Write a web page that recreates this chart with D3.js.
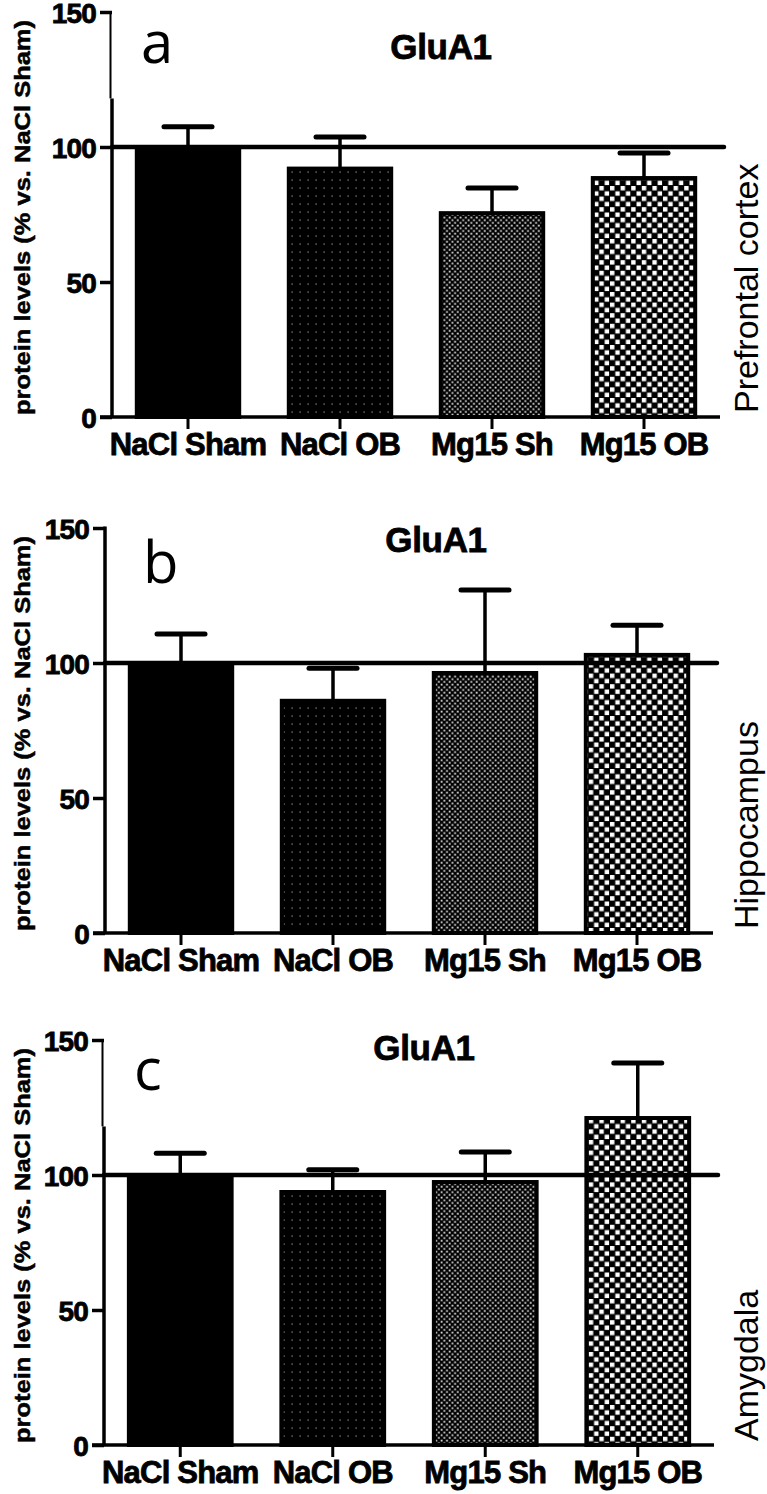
<!DOCTYPE html>
<html>
<head>
<meta charset="utf-8">
<script src="https://cdn.jsdelivr.net/npm/d3@7"></script>
<style>
  body { margin: 0; background: #fff; }
  svg { display: block; font-family: "Liberation Sans", Arial, sans-serif; }
</style>
</head>
<body>
<script>
// data
const categories = ["NaCl Sham", "NaCl OB", "Mg15 Sh", "Mg15 OB"];
const yTicks = [0, 50, 100, 150];
const meansA = [100, 92, 75.5, 88.5];
const semA = [7.5, 11.7, 9.3, 9.3];
const meansB = [100, 86, 96.3, 103];
const semB = [10.7, 12.1, 30.7, 11];
const meansC = [100, 93.7, 97.4, 121.1];
const semC = [8.1, 8.2, 11.1, 20.4];
const regions = ["Prefrontal cortex", "Hippocampus", "Amygdala"];
const letters = ["a", "b", "c"];
const refValue = 100;

const fills = ["#000", "url(#dots)", "url(#fine)", "url(#checker)"];

const svg = d3.select("body").append("svg")
    .attr("width", 767)
    .attr("height", 1494);

svg.append("rect").attr("width", 767).attr("height", 1494).attr("fill", "#fff");

// bar fill patterns
const defs = svg.append("defs");
const dots = defs.append("pattern").attr("id", "dots")
    .attr("patternUnits", "userSpaceOnUse").attr("width", 8).attr("height", 8);
dots.append("rect").attr("width", 8).attr("height", 8).attr("fill", "#000");
dots.append("rect").attr("x", 3.5).attr("y", 3.5).attr("width", 1.2).attr("height", 1.2).attr("fill", "#9a9a9a");

const fine = defs.append("pattern").attr("id", "fine")
    .attr("patternUnits", "userSpaceOnUse").attr("width", 5.4).attr("height", 5.4);
fine.append("rect").attr("width", 5.4).attr("height", 5.4).attr("fill", "#000");
fine.append("rect").attr("x", 0.6).attr("y", 0.6).attr("width", 1.8).attr("height", 1.8).attr("fill", "#ddd");
fine.append("rect").attr("x", 3.3).attr("y", 3.3).attr("width", 1.8).attr("height", 1.8).attr("fill", "#ddd");

const checker = defs.append("pattern").attr("id", "checker")
    .attr("patternUnits", "userSpaceOnUse").attr("width", 10.6).attr("height", 10.6);
checker.append("rect").attr("width", 10.6).attr("height", 10.6).attr("fill", "#000");
checker.append("rect").attr("x", 0.5).attr("y", 0.5).attr("width", 4.4).attr("height", 4.4).attr("fill", "#fff");
checker.append("rect").attr("x", 5.8).attr("y", 5.8).attr("width", 4.4).attr("height", 4.4).attr("fill", "#fff");

const panels = [
    { means: meansA, sems: semA, axisX: 112, xEnd: 720, y0: 417, y150: 12, thinTop: true,
      letterX: 141, letterY: 63, titleX: 441, titleY: 59 },
    { means: meansB, sems: semB, axisX: 105, xEnd: 713, y0: 933, y150: 528, thinTop: false,
      letterX: 143, letterY: 583, titleX: 436, titleY: 552 },
    { means: meansC, sems: semC, axisX: 104, xEnd: 714, y0: 1445, y150: 1040, thinTop: true,
      letterX: 134, letterY: 1090, titleX: 424, titleY: 1060 }
];

// heavier look of the bold labels
function heavy(sel, w) {
    sel.attr("stroke", "#000").attr("stroke-width", w).attr("paint-order", "stroke");
}

panels.forEach((p, k) => {
    const g = svg.append("g");

    const x = d3.scaleBand()
        .domain(categories)
        .range([p.axisX, p.xEnd])
        .paddingInner(0.3)
        .paddingOuter(0.15);

    const y = d3.scaleLinear()
        .domain([0, 150])
        .range([p.y0, p.y150]);

    const data = categories.map((c, i) => ({ cat: c, mean: p.means[i], sem: p.sems[i], fill: fills[i] }));

    // bars
    g.selectAll("rect.bar")
        .data(data)
        .enter()
        .append("rect")
        .attr("class", "bar")
        .attr("x", d => x(d.cat) + 2)
        .attr("y", d => y(d.mean))
        .attr("width", x.bandwidth() - 4)
        .attr("height", d => y(0) - y(d.mean))
        .attr("fill", d => d.fill)
        .attr("stroke", "#000")
        .attr("stroke-width", 4);

    // reference line at 100
    g.append("line")
        .attr("x1", p.axisX).attr("x2", p.xEnd + 4)
        .attr("y1", y(refValue)).attr("y2", y(refValue))
        .attr("stroke", "#000").attr("stroke-width", 4.5)
        .attr("stroke-linecap", "round");

    // error bars (upper only)
    const err = g.selectAll("g.err").data(data).enter().append("g");
    err.append("line")
        .attr("x1", d => x(d.cat) + x.bandwidth() / 2)
        .attr("x2", d => x(d.cat) + x.bandwidth() / 2)
        .attr("y1", d => y(d.mean))
        .attr("y2", d => y(d.mean + d.sem))
        .attr("stroke", "#000").attr("stroke-width", 3.5);
    err.append("line")
        .attr("x1", d => x(d.cat) + x.bandwidth() / 2 - 24)
        .attr("x2", d => x(d.cat) + x.bandwidth() / 2 + 24)
        .attr("y1", d => y(d.mean + d.sem))
        .attr("y2", d => y(d.mean + d.sem))
        .attr("stroke", "#000").attr("stroke-width", 5)
        .attr("stroke-linecap", "round");

    // y axis
    const yAxis = g.append("g")
        .attr("transform", "translate(" + p.axisX + ",0)")
        .call(d3.axisLeft(y).tickValues(yTicks).tickSize(12).tickPadding(4).tickSizeOuter(0));
    yAxis.select(".domain").remove();
    yAxis.selectAll(".tick line").attr("stroke", "#000").attr("stroke-width", 3.5);
    yAxis.selectAll(".tick text")
        .attr("fill", "#000")
        .attr("dy", "0.36em")
        .style("font-family", "'Liberation Sans', Arial, sans-serif")
        .style("font-size", "28px")
        .style("font-weight", "bold")
        .attr("letter-spacing", "-0.8")
        .call(heavy, 0.8);

    // axis spine; the top part is thinner in panels a and c
    if (p.thinTop) {
        g.append("line")
            .attr("x1", p.axisX - 1.5).attr("x2", p.axisX - 1.5)
            .attr("y1", y(150) - 1).attr("y2", y(118))
            .attr("stroke", "#000").attr("stroke-width", 2);
        g.append("line")
            .attr("x1", p.axisX).attr("x2", p.axisX)
            .attr("y1", y(118)).attr("y2", y(0))
            .attr("stroke", "#000").attr("stroke-width", 3.5);
    } else {
        g.append("line")
            .attr("x1", p.axisX).attr("x2", p.axisX)
            .attr("y1", y(150) - 1.5).attr("y2", y(0))
            .attr("stroke", "#000").attr("stroke-width", 3.5);
    }

    // x axis
    const xAxis = g.append("g")
        .attr("transform", "translate(0," + y(0) + ")")
        .call(d3.axisBottom(x).tickSize(12).tickPadding(4).tickSizeOuter(0));
    xAxis.select(".domain").remove();
    g.append("line")
        .attr("x1", p.axisX - 12).attr("x2", p.xEnd)
        .attr("y1", y(0)).attr("y2", y(0))
        .attr("stroke", "#000").attr("stroke-width", 3.5);
    xAxis.selectAll(".tick line").attr("stroke", "#000").attr("stroke-width", 3);
    xAxis.selectAll(".tick text")
        .attr("fill", "#000")
        .style("font-family", "'Liberation Sans', Arial, sans-serif")
        .style("font-size", "31px")
        .style("font-weight", "bold")
        .attr("letter-spacing", "-0.8")
        .call(heavy, 0.8);

    // y axis title
    g.append("text")
        .attr("transform", "translate(30," + ((p.y0 + p.y150) / 2 + 3) + ") rotate(-90)")
        .attr("text-anchor", "middle")
        .attr("textLength", 395)
        .attr("lengthAdjust", "spacingAndGlyphs")
        .style("font-size", "22px")
        .style("font-weight", "bold")
        .text("protein levels (% vs. NaCl Sham)")
        .call(heavy, 0.5);

    // brain region on the right
    g.append("text")
        .attr("transform", "translate(758," + (p.y0 - 4) + ") rotate(-90)")
        .attr("text-anchor", "start")
        .style("font-size", "34px")
        .text(regions[k]);

    // title
    g.append("text")
        .attr("x", p.titleX).attr("y", p.titleY)
        .attr("text-anchor", "middle")
        .style("font-size", "35px")
        .style("font-weight", "bold")
        .attr("letter-spacing", "-0.3")
        .text("GluA1")
        .call(heavy, 0.8);

    // panel letter
    g.append("text")
        .attr("x", p.letterX).attr("y", p.letterY)
        .style("font-family", "'Open Sans', sans-serif")
        .style("font-size", "58px")
        .text(letters[k]);
});
</script>
</body>
</html>
